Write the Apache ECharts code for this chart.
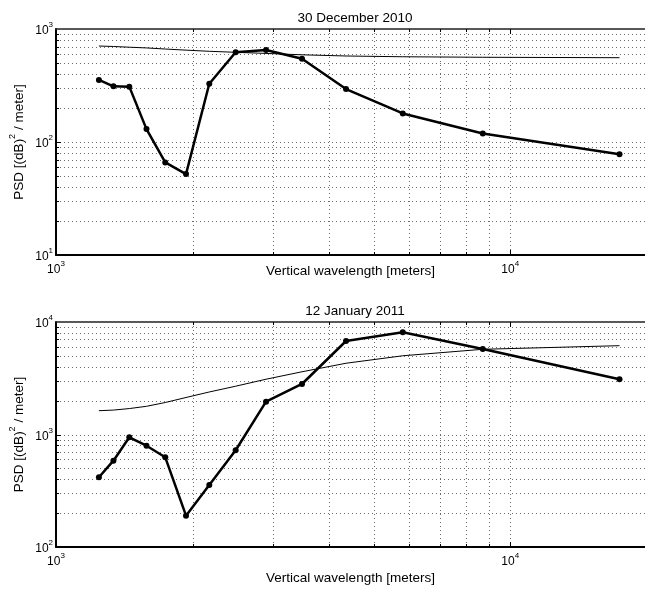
<!DOCTYPE html>
<html>
<head>
<meta charset="utf-8">
<script src="https://cdn.jsdelivr.net/npm/echarts@6/dist/echarts.min.js"></script>
<style>
html, body { margin: 0; padding: 0; background: #fff; }
#chart { width: 645px; height: 589px; }
</style>
</head>
<body>
<div id="chart"></div>
<script>
// Vertical wavelengths of the spectral estimates [m]
const wavelength = [1243, 1338, 1450, 1582, 1740, 1933, 2175, 2486, 2900, 3480, 4350, 5800, 8700, 17400];

// 30 December 2010: measured PSD and reference spectrum
const psdDec = [354, 311, 309, 130, 66, 52, 328, 622, 652, 546, 294, 179, 119, 78];
const refDec = [707, 700, 690, 680, 665, 650, 635, 622, 608, 591, 577, 568, 562, 557];

// 12 January 2011: measured PSD and reference spectrum
const psdJan = [417, 585, 944, 795, 627, 190, 356, 724, 1958, 2812, 6780, 8100, 5754, 3096];
const refJan = [1628, 1648, 1700, 1781, 1925, 2133, 2388, 2687, 3100, 3610, 4300, 5010, 5720, 6160];

const panelTitles = ['30 December 2010', '12 January 2011'];
const xName = 'Vertical wavelength [meters]';

// Log grid lines
const xGrid = [2000, 3000, 4000, 5000, 6000, 7000, 8000, 9000, 10000];
const yGridDec = [20, 30, 40, 50, 60, 70, 80, 90, 100, 200, 300, 400, 500, 600, 700, 800, 900];
const yGridJan = [200, 300, 400, 500, 600, 700, 800, 900, 1000, 2000, 3000, 4000, 5000, 6000, 7000, 8000, 9000];

const FONT = "'Liberation Sans', Arial, Helvetica, sans-serif";

const chart = echarts.init(document.getElementById('chart'), null, { renderer: 'canvas' });

const supRich = {
  b: { fontFamily: FONT, fontSize: 12, color: '#000', lineHeight: 16, verticalAlign: 'bottom' },
  s: { fontFamily: FONT, fontSize: 8, color: '#000', lineHeight: 10, verticalAlign: 'top' }
};
const nameRich = {
  a: { fontFamily: FONT, fontSize: 13.5, color: '#000', lineHeight: 18, verticalAlign: 'bottom' },
  s: { fontFamily: FONT, fontSize: 9, color: '#000', lineHeight: 12, verticalAlign: 'top' }
};

function powLabel(v) {
  const e = Math.round(Math.log10(v));
  return '{b|10}{s|' + e + '}';
}

function isDecade(v) {
  const l = Math.log10(v);
  return Math.abs(l - Math.round(l)) < 1e-9;
}

// Dotted grid lines with inward ticks on the box edges
function gridItem(dir) {
  return function (params, api) {
    const cs = params.coordSys;
    const v = api.value(dir === 'x' ? 0 : 1);
    const p = api.coord([api.value(0), api.value(1)]);
    const dot = { stroke: '#6a6a6a', lineWidth: 1, lineDash: [1, 3] };
    const tick = { stroke: '#000', lineWidth: 1 };
    const len = isDecade(v) ? 5 : 3;
    if (dir === 'x') {
      const x = Math.round(p[0]) + 0.5;
      const y0 = cs.y, y1 = cs.y + cs.height;
      return { type: 'group', children: [
        { type: 'line', shape: { x1: x, y1: y0, x2: x, y2: y1 }, style: dot },
        { type: 'line', shape: { x1: x, y1: y1, x2: x, y2: y1 - len }, style: tick },
        { type: 'line', shape: { x1: x, y1: y0, x2: x, y2: y0 + len }, style: tick }
      ] };
    }
    const y = Math.round(p[1]) + 0.5;
    const x0 = cs.x, x1 = cs.x + cs.width;
    return { type: 'group', children: [
      { type: 'line', shape: { x1: x0, y1: y, x2: x1, y2: y }, style: dot },
      { type: 'line', shape: { x1: x0, y1: y, x2: x0 + len, y2: y }, style: tick }
    ] };
  };
}

const grids = [
  { left: 55, top: 29, width: 590, height: 226 },
  { left: 55, top: 322, width: 590, height: 225 }
];
const yRanges = [[10, 1000], [100, 10000]];
const xNameGaps = [9, 24];

const xAxes = [], yAxes = [], series = [], titles = [];
const panels = [
  { psd: psdDec, ref: refDec, yGrid: yGridDec },
  { psd: psdJan, ref: refJan, yGrid: yGridJan }
];

panels.forEach(function (pan, i) {
  // bottom axis
  xAxes.push({
    type: 'log', logBase: 10, gridIndex: i, min: 1000, max: 19800,
    position: 'bottom',
    name: xName, nameLocation: 'middle', nameGap: xNameGaps[i], nameMoveOverlap: false,
    nameTextStyle: { fontFamily: FONT, fontSize: 13.5, color: '#000' },
    axisLine: { show: true, lineStyle: { color: '#000', width: 2 } },
    axisTick: { show: false },
    splitLine: { show: false },
    axisLabel: { margin: 5, formatter: powLabel, rich: supRich, showMaxLabel: false, showMinLabel: true }
  });
  // top edge of the box
  xAxes.push({
    type: 'log', logBase: 10, gridIndex: i, min: 1000, max: 19800,
    position: 'top',
    axisLine: { show: true, lineStyle: { color: '#222', width: 1.5 } },
    axisTick: { show: false }, axisLabel: { show: false }, splitLine: { show: false }
  });
  yAxes.push({
    type: 'log', logBase: 10, gridIndex: i, min: yRanges[i][0], max: yRanges[i][1],
    position: 'left',
    name: '{a|PSD [(dB)}{s|2}{a| / meter]}', nameLocation: 'middle', nameGap: 30, nameRotate: 90,
    nameMoveOverlap: false,
    nameTextStyle: { rich: nameRich },
    axisLine: { show: true, lineStyle: { color: '#000', width: 2 } },
    axisTick: { show: false },
    splitLine: { show: false },
    axisLabel: { margin: 3, formatter: powLabel, rich: supRich }
  });

  const xa = i * 2, ya = i;
  series.push({
    type: 'custom', xAxisIndex: xa, yAxisIndex: ya, silent: true, z: 1,
    renderItem: gridItem('x'),
    data: xGrid.map(function (v) { return [v, yRanges[i][0]]; })
  });
  series.push({
    type: 'custom', xAxisIndex: xa, yAxisIndex: ya, silent: true, z: 1,
    renderItem: gridItem('y'),
    data: pan.yGrid.map(function (v) { return [1000, v]; })
  });
  series.push({
    type: 'line', xAxisIndex: xa, yAxisIndex: ya, z: 3,
    data: wavelength.map(function (w, k) { return [w, pan.ref[k]]; }),
    showSymbol: false, lineStyle: { color: '#000', width: 1 }
  });
  series.push({
    type: 'line', xAxisIndex: xa, yAxisIndex: ya, z: 4,
    data: wavelength.map(function (w, k) { return [w, pan.psd[k]]; }),
    symbol: 'circle', symbolSize: 6,
    itemStyle: { color: '#000' },
    lineStyle: { color: '#000', width: 2.5 }
  });

  titles.push({
    text: panelTitles[i], left: 350, top: i === 0 ? 6 : 299, textAlign: 'center',
    textStyle: { fontFamily: FONT, fontSize: 13.5, fontWeight: 'normal', color: '#000' }
  });
});

chart.setOption({
  animation: false,
  backgroundColor: '#fff',
  title: titles,
  grid: grids,
  xAxis: xAxes,
  yAxis: yAxes,
  series: series
});
</script>
</body>
</html>
